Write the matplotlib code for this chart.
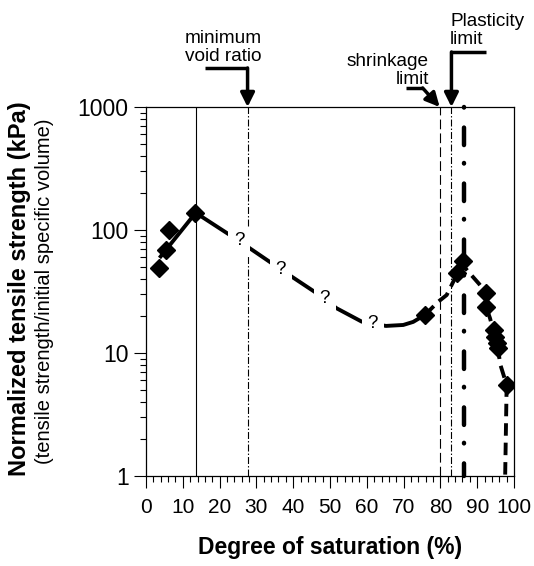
import numpy as np
import matplotlib.pyplot as plt
from matplotlib.lines import Line2D
from matplotlib.ticker import MultipleLocator, LogLocator, NullFormatter
from matplotlib.transforms import IdentityTransform

plt.rcParams['font.family'] = ['Liberation Sans', 'DejaVu Sans']
plt.rcParams['lines.scale_dashes'] = False

# measured points (degree of saturation %, normalized tensile strength kPa)
sat = [3.5, 5.4, 6.3, 13.3, 75.8, 84.6, 86.2, 92.4, 92.4, 94.7, 94.8, 95.3, 95.7, 98.0]
strength = [48.8, 68.8, 100, 138, 20.4, 44.5, 56.3, 30.9, 23.8, 15.4, 13.6, 12.0, 10.9, 5.5]

# hand-drawn trend line
trend_left_x = [4.0, 13.5, 25.3, 36.6, 46.4, 51.8, 58.6, 65.2, 69.9, 72.6, 75.8]
trend_left_y = [61, 138, 81.4, 47.9, 30.6, 23.1, 18.0, 16.6, 16.9, 17.9, 20.4]
trend_right_x = [75.8, 79.4, 81.7, 83.5, 84.6, 86.0, 87.6, 90.5, 92.4, 92.4, 93.5, 94.8, 95.7, 96.2, 98.0, 97.6]
trend_right_y = [20.4, 26.1, 29.6, 38.0, 44.5, 52.0, 45.8, 36.5, 30.9, 23.8, 19.1, 13.6, 10.9, 8.2, 5.5, 1.0]

# question marks on the uncertain branch
q_x = [25.3, 36.6, 48.6, 61.6]
q_y = [81.4, 47.9, 27.9, 17.4]

# reference saturations
s_peak = 13.6
s_min_void = 27.6
s_shrink = 79.8
s_plastic = 83.0
s_thick = 86.3

W, H = 534, 566
fig = plt.figure(figsize=(W / 100, H / 100), dpi=100)
ax = fig.add_axes([146 / W, 1 - 476 / H, 368 / W, 369 / H])
ax.set_yscale('log')
ax.set_xlim(0, 100)
ax.set_ylim(1, 1000)

# vertical reference lines
ax.plot([s_peak, s_peak], [1, 1000], color='k', lw=0.8)
ax.plot([s_min_void, s_min_void], [1, 1000], color='k', lw=0.8, dashes=(5, 1.5, 1, 1.5))
ax.plot([s_shrink, s_shrink], [1, 1000], color='k', lw=0.8, dashes=(7, 3))
ax.plot([s_plastic, s_plastic], [1, 1000], color='k', lw=0.8, dashes=(5, 1.5, 1, 1.5))
ax.plot([s_thick, s_thick], [1000, 1], color='k', lw=3.2, dashes=(0.4, 14.4, 12.6, 12.9),
        dash_capstyle='round', clip_on=False)

# trend
ax.plot(trend_left_x, trend_left_y, color='k', lw=2.8)
ax.plot(trend_right_x, trend_right_y, color='k', lw=2.8, dashes=(9, 5))
for x, y in zip(q_x, q_y):
    ax.text(x, y, '?', fontsize=13.5, ha='center', va='center', zorder=4,
            bbox=dict(fc='white', ec='none', pad=4))

ax.plot(sat, strength, 'D', color='k', ms=9, zorder=5)

# ticks
ax.xaxis.set_major_locator(MultipleLocator(10))
ax.xaxis.set_minor_locator(MultipleLocator(2))
ax.set_yticks([1, 10, 100, 1000])
ax.set_yticklabels(['1', '10', '100', '1000'])
ax.yaxis.set_minor_locator(LogLocator(base=10, subs=np.arange(2, 10)))
ax.yaxis.set_minor_formatter(NullFormatter())
ax.tick_params(axis='both', which='major', direction='out', length=8.5, width=0.8)
ax.tick_params(axis='both', which='minor', direction='out', length=4.5, width=0.8)
ax.tick_params(axis='x', labelsize=15, pad=7)
ax.tick_params(axis='y', labelsize=16.5, pad=4)
for sp in ax.spines.values():
    sp.set_linewidth(0.9)

ax.set_xlabel('Degree of saturation (%)', fontsize=16.5, fontweight='bold', labelpad=14)
fig.text(20 / W, 1 - 289 / H, 'Normalized tensile strength (kPa)', rotation=90,
         fontsize=17, fontweight='bold', ha='center', va='center')
fig.text(45 / W, 1 - 291 / H, '(tensile strength/initial specific volume)', rotation=90,
         fontsize=14.5, ha='center', va='center')


# elbow arrows pointing at the top of the reference lines (offsets in pixels)
def elbow_arrow(x, corner, tail):
    hx, hy = ax.transData.transform((x, 1000))
    cx, cy = hx + corner[0], hy + corner[1]
    tx, ty = hx + tail[0], hy + tail[1]
    fig.add_artist(Line2D([tx, cx], [ty, cy], transform=IdentityTransform(),
                          color='k', lw=2.5, solid_capstyle='butt'))
    ax.annotate('', xy=(x, 1000), xytext=(cx, cy), textcoords='figure pixels',
                annotation_clip=False,
                arrowprops=dict(arrowstyle='-|>,head_length=0.6,head_width=0.3',
                                mutation_scale=14, lw=2.5, color='k',
                                shrinkA=0, shrinkB=0))


elbow_arrow(s_min_void, (0, 39), (-43, 39))
elbow_arrow(s_shrink, (-17, 19), (-34, 19))
elbow_arrow(s_plastic, (0, 55), (35, 55))

fig.text(185 / W, 1 - 30 / H, 'minimum\nvoid ratio', fontsize=13.7, ha='left', va='top',
         linespacing=1.1)
fig.text(429 / W, 1 - 53 / H, 'shrinkage\nlimit', fontsize=13.7, ha='right', va='top',
         multialignment='right', linespacing=1.1)
fig.text(450 / W, 1 - 13 / H, 'Plasticity\nlimit', fontsize=13.7, ha='left', va='top',
         linespacing=1.1)

fig.savefig('out.png', dpi=100)
